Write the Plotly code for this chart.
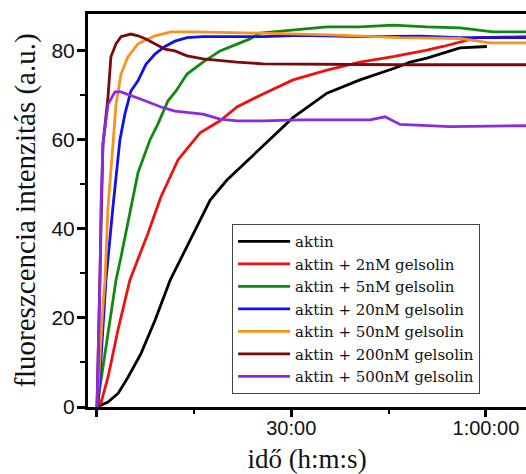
import plotly.graph_objects as go

# time in seconds, fluorescence in a.u.
t_aktin = [0, 40, 105, 200, 290, 410, 540, 680, 865, 1050, 1205, 1420, 1510, 1815, 2130, 2435, 2740, 2900, 3055, 3360, 3610]
v_aktin = [0, 0.4, 1.1, 3.1, 6.7, 12, 19.5, 28.5, 37.5, 46.5, 51, 56, 58, 65, 70.5, 73.5, 76, 77.5, 78.4, 80.7, 81]

t_2nm = [3, 40, 105, 197, 307, 381, 474, 594, 752, 956, 1141, 1298, 1510, 1816, 2130, 2436, 2741, 3055, 3203, 3518, 3990]
v_2nm = [0, 0.9, 6.7, 17.3, 28.5, 33, 39, 47.2, 55.5, 61.6, 64.3, 67.4, 70, 73.5, 75.7, 77.5, 78.7, 80.2, 81, 83, 83.2]

t_5nm = [3, 40, 105, 179, 225, 290, 382, 493, 567, 660, 734, 836, 984, 1141, 1298, 1418, 1510, 1816, 2130, 2436, 2741, 3055, 3360, 3666, 3990]
v_5nm = [0, 6, 17.3, 28.5, 33.7, 41.3, 52.6, 60, 63.6, 68.8, 71, 74.8, 77.5, 80, 81.6, 82.7, 84, 84.7, 85.4, 85.4, 85.8, 85.4, 85.2, 84.3, 84.3]

t_20nm = [12, 40, 86, 151, 215, 261, 317, 382, 456, 539, 632, 724, 836, 984, 1298, 1539, 1881, 2436, 2991, 3360, 3990]
v_20nm = [0, 10, 28.5, 45, 60, 65.8, 71, 73.3, 77, 79.3, 81, 82.2, 83, 83.2, 83.2, 83.2, 83.5, 83.2, 83.3, 83, 83]

t_50nm = [3, 31, 58, 77, 105, 151, 179, 225, 290, 382, 539, 687, 909, 1510, 2158, 2806, 3360, 3638, 3990]
v_50nm = [0, 12, 22.5, 28.5, 45, 59, 68, 74.8, 78.7, 81.6, 83.4, 84.3, 84.3, 84, 83.6, 83, 82.8, 81.8, 81.8]

t_200nm = [3, 31, 49, 58, 105, 132, 179, 225, 317, 382, 456, 539, 632, 724, 836, 984, 1141, 1298, 1539, 1881, 2806, 3990]
v_200nm = [0, 30, 50, 59, 69.7, 78.7, 81.6, 83.2, 83.8, 83.4, 82.7, 81.6, 80.4, 80, 78.9, 78.2, 77.8, 77.5, 77.1, 77, 76.9, 76.9]

t_500nm = [3, 21, 31, 40, 58, 105, 169, 225, 317, 447, 595, 724, 984, 1141, 1298, 1539, 1881, 2528, 2667, 2806, 3268, 3990]
v_500nm = [0, 15, 28.5, 45, 59, 68, 70.8, 70.8, 69.9, 68.8, 67.4, 66.5, 65.8, 64.7, 64.3, 64.3, 64.5, 64.5, 65.2, 63.5, 63, 63.2]

names = ["aktin", "aktin + 2nM gelsolin", "aktin + 5nM gelsolin", "aktin + 20nM gelsolin",
         "aktin + 50nM gelsolin", "aktin + 200nM gelsolin", "aktin + 500nM gelsolin"]
colors = ["#000000", "#ee1111", "#118811", "#1111ee", "#f7931e", "#7a0a0a", "#8a2be2"]
series = [(t_aktin, v_aktin), (t_2nm, v_2nm), (t_5nm, v_5nm), (t_20nm, v_20nm),
          (t_50nm, v_50nm), (t_200nm, v_200nm), (t_500nm, v_500nm)]

x_tickvals = [0, 1800, 3600]
x_ticktext = ["", "30:00", "1:00:00"]
x_minor = [900, 2700]
y_tickvals = [0, 20, 40, 60, 80]

SERIF = "Liberation Serif, Times New Roman, serif"
SANS = "Liberation Sans, Arial, sans-serif"

fig = go.Figure()
for (tx, vy), n, c in zip(series, names, colors):
    fig.add_trace(go.Scatter(x=tx, y=vy, mode="lines", name=n,
                             line=dict(color=c, width=2.8)))

fig.update_layout(
    width=526, height=474,
    margin=dict(l=88, r=0, t=14, b=67),
    paper_bgcolor="white", plot_bgcolor="white",
    font=dict(family=SERIF, color="#111"),
    showlegend=True,
    legend=dict(x=0.329, y=0.033, xanchor="left", yanchor="bottom",
                bgcolor="white", bordercolor="#444", borderwidth=1,
                font=dict(family="DejaVu Serif", size=15, color="#111"),
                itemwidth=52, tracegroupgap=0),
)
fig.update_xaxes(range=[-80, 3971], showline=True, linewidth=3, linecolor="black",
                 mirror=True, showgrid=False, zeroline=False,
                 tickvals=x_tickvals, ticktext=x_ticktext, ticks="outside",
                 ticklen=7, tickwidth=2.5, tickcolor="black", ticklabelstandoff=-6,
                 minor=dict(tickvals=x_minor, ticks="outside", ticklen=4, tickwidth=2, tickcolor="black"),
                 tickfont=dict(family=SANS, size=20, color="#111"),
                 title=dict(text="idő (h:m:s)", font=dict(family=SERIF, size=27, color="#111"),
                            standoff=12))
fig.update_yaxes(range=[0, 88.3], showline=True, linewidth=3, linecolor="black",
                 mirror=False, showgrid=False, zeroline=False,
                 tickvals=y_tickvals, ticks="outside", ticklen=8, tickwidth=2.5, tickcolor="black",
                 ticklabelstandoff=-2,
                 minor=dict(dtick=10, tick0=0, ticks="outside", ticklen=5, tickwidth=2, tickcolor="black"),
                 tickfont=dict(family=SANS, size=21, color="#111"),
                 title=dict(text="fluoreszcencia intenzitás (a.u.)",
                            font=dict(family=SERIF, size=29, color="#111"), standoff=8))

fig.write_html("out.html")
